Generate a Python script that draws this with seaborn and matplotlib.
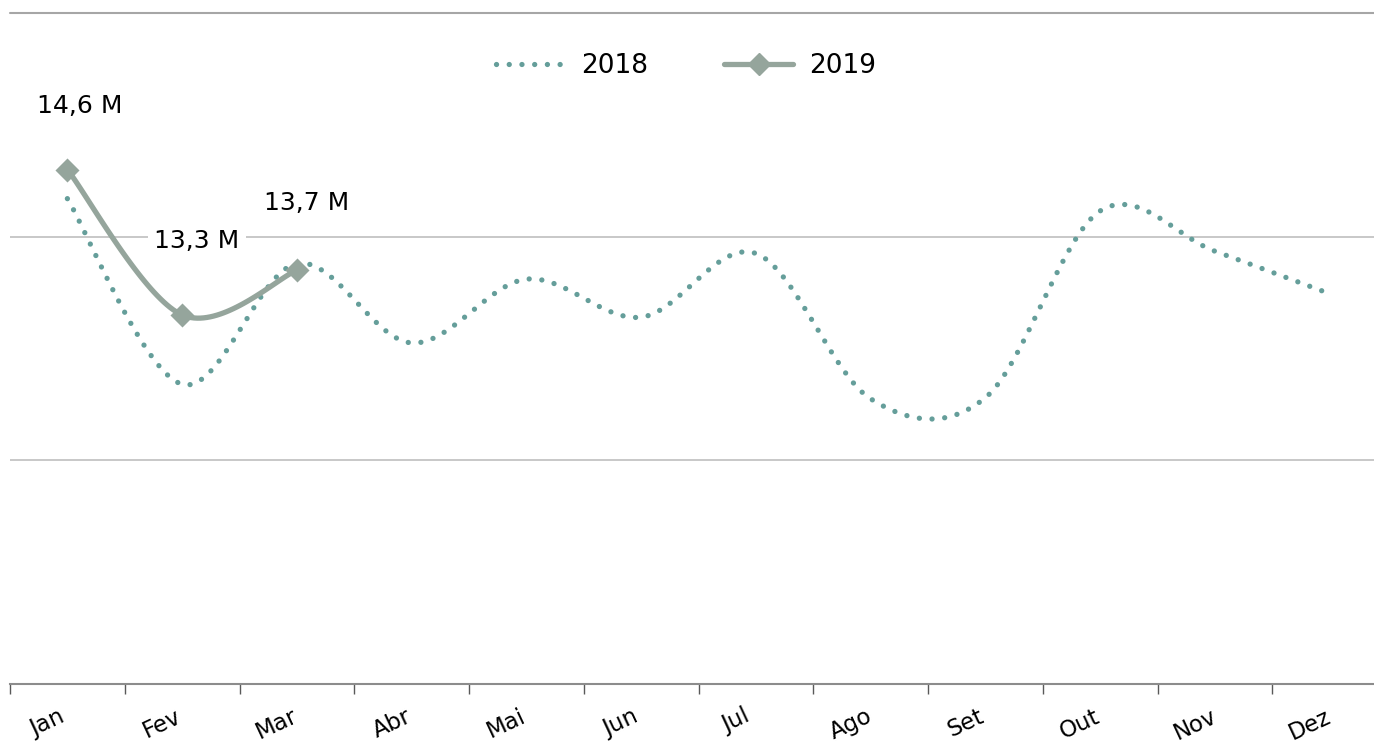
import numpy as np
import pandas as pd
import matplotlib
matplotlib.use("Agg")
import matplotlib.pyplot as plt
import matplotlib.transforms as mtransforms
from matplotlib.lines import Line2D
import seaborn as sns

months = ["Jan", "Fev", "Mar", "Abr", "Mai", "Jun", "Jul", "Ago", "Set", "Out", "Nov", "Dez"]
vals_2018 = [14.34, 12.68, 13.76, 13.05, 13.62, 13.28, 13.85, 12.55, 12.56, 14.23, 13.87, 13.49]
vals_2019 = [14.6, 13.3, 13.7]
labels_2019 = ["14,6 M", "13,3 M", "13,7 M"]
label_offsets = [(12, 64), (15, 74), (10, 67)]  # px, label centre relative to point

c2018 = "#659e9a"
c2019 = "#95a59c"
dotted = (0, (0.01, 2.4))


def smooth(ys, per_seg=40):
    # Catmull-Rom curve through the points (like Excel's smoothed line)
    ys = np.asarray(ys, dtype=float)
    xs = np.arange(len(ys), dtype=float)
    px = np.concatenate([[xs[0]], xs, [xs[-1]]])
    py = np.concatenate([[ys[0]], ys, [ys[-1]]])
    out_x, out_y = [], []
    for i in range(1, len(px) - 2):
        t = np.linspace(0, 1, per_seg, endpoint=False)
        mx0 = (px[i + 1] - px[i - 1]) / 2
        mx1 = (px[i + 2] - px[i]) / 2
        my0 = (py[i + 1] - py[i - 1]) / 2
        my1 = (py[i + 2] - py[i]) / 2
        h00 = 2 * t**3 - 3 * t**2 + 1
        h10 = t**3 - 2 * t**2 + t
        h01 = -2 * t**3 + 3 * t**2
        h11 = t**3 - t**2
        out_x.append(h00 * px[i] + h10 * mx0 + h01 * px[i + 1] + h11 * mx1)
        out_y.append(h00 * py[i] + h10 * my0 + h01 * py[i + 1] + h11 * my1)
    out_x.append([xs[-1]])
    out_y.append([ys[-1]])
    return np.concatenate(out_x), np.concatenate(out_y)


sns.set_style("white")
plt.rcParams["font.family"] = ["DejaVu Sans"]
plt.rcParams["text.color"] = "black"

fig = plt.figure(figsize=(13.74, 7.46), dpi=100)
W, H = 1374, 746
ax = fig.add_axes([10 / W, (H - 684) / H, 1377 / W, 671 / H])

sx, sy = smooth(vals_2018)
df18 = pd.DataFrame({"x": sx, "y": sy})
sns.lineplot(data=df18, x="x", y="y", ax=ax, sort=False, estimator=None,
             color=c2018, linewidth=3.8, linestyle=dotted, dash_capstyle="round")

sx, sy = smooth(vals_2019)
df19 = pd.DataFrame({"x": sx, "y": sy})
sns.lineplot(data=df19, x="x", y="y", ax=ax, sort=False, estimator=None,
             color=c2019, linewidth=3.8, solid_capstyle="round")
pts19 = pd.DataFrame({"x": np.arange(len(vals_2019)), "y": vals_2019})
sns.scatterplot(data=pts19, x="x", y="y", ax=ax, marker="D", s=150,
                color=c2019, edgecolor=c2019, linewidth=0, zorder=5)

for i, (v, lab) in enumerate(zip(vals_2019, labels_2019)):
    dx, dy = label_offsets[i]
    ax.annotate(lab, (i, v), xytext=(dx * 0.72, dy * 0.72), textcoords="offset points",
                ha="center", va="center", fontsize=18, color="black",
                bbox=dict(boxstyle="square,pad=0.25", fc="white", ec="none"), zorder=6)

ax.set_xlim(-0.5, 11.5)
ax.set_ylim(10, 16)
ax.set_yticks([10, 12, 14])
ax.set_yticklabels([])
ax.tick_params(axis="y", length=0)
ax.grid(axis="y", color="#bfbfbf", linewidth=1.2)
ax.axhline(16, color="#a6a6a6", linewidth=1.5, clip_on=False, zorder=0)
ax.set_axisbelow(True)

ax.set_xticks(range(len(months)))
ax.set_xticklabels(months, fontsize=16.5, rotation=25, ha="center", color="black")
ax.set_xticks(np.arange(-0.5, 12, 1), minor=True)
ax.tick_params(axis="x", which="major", bottom=False, length=0, pad=15)
ax.tick_params(axis="x", which="minor", bottom=True, length=7, width=1,
               color="#595959", direction="out")
shift = mtransforms.ScaledTranslation(-20 / 100, 0, fig.dpi_scale_trans)
for t in ax.get_xticklabels():
    t.set_transform(t.get_transform() + shift)

ax.set_xlabel("")
ax.set_ylabel("")
for s in ["top", "right", "left"]:
    ax.spines[s].set_visible(False)
ax.spines["bottom"].set_color("#8c8c8c")
ax.spines["bottom"].set_linewidth(1.5)

handles = [
    Line2D([], [], color=c2018, linewidth=3.8, linestyle=dotted, dash_capstyle="round"),
    Line2D([], [], color=c2019, linewidth=3.8, marker="D", markersize=11,
           solid_capstyle="round"),
]
fig.legend(handles, ["2018", "2019"], loc="center", bbox_to_anchor=(686 / W, (H - 66) / H),
           ncol=2, frameon=False, fontsize=19, handlelength=2.6, columnspacing=2.9,
           handletextpad=0.6, labelcolor="black")

fig.savefig("out.png", dpi=100, facecolor="white")
